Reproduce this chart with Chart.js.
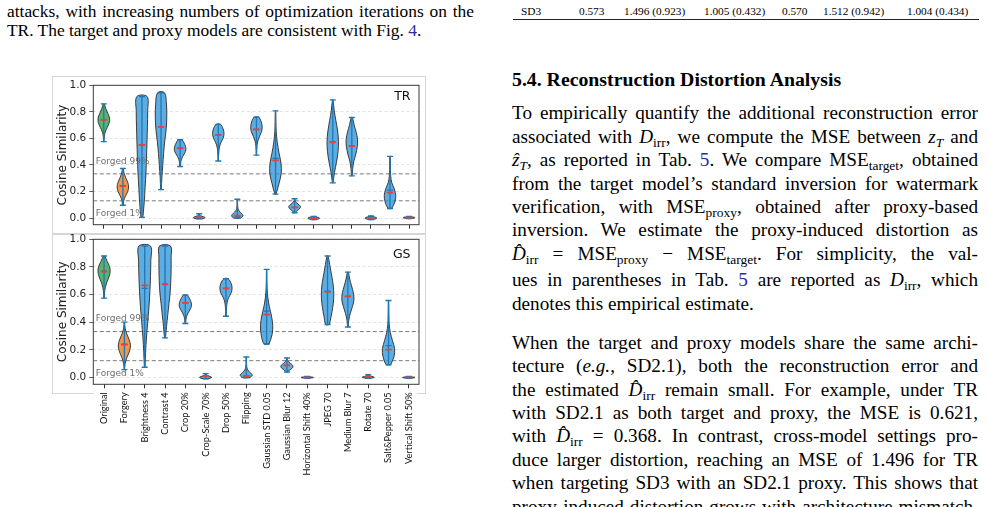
<!DOCTYPE html>
<html>
<head>
<meta charset="utf-8">
<script src="https://cdn.jsdelivr.net/npm/chart.js@4.4.1/dist/chart.umd.min.js"></script>
<style>
html, body { margin: 0; padding: 0; background: #fff; }
body { width: 988px; height: 507px; position: relative; overflow: hidden;
  font-family: "Liberation Serif", "Times New Roman", serif; color: #000; }
.ln { position: absolute; white-space: nowrap; }
.r { left: 512px; width: 466px; font-size: 19.2px; line-height: 23.4px; }
.c { left: 7px; width: 467px; font-size: 17.4px; line-height: 19px; }
.j { text-align: justify; text-align-last: justify; white-space: normal; }
.t { font-size: 11.3px; line-height: 14px; top: 4.1px; }
.ref { color: #2b2ba0; }
sub { font-size: 70%; vertical-align: -0.28em; line-height: 0; font-style: normal; }
i sub { font-style: italic; }
.box { position: absolute; border: 1px solid #d6d6d6; box-sizing: border-box; }
canvas { position: absolute; }
</style>
</head>
<body>

<!-- text around the figure -->
<div class="ln c j" style="top:1.9px">attacks, with increasing numbers of optimization iterations on the</div>
<div class="ln c" style="top:21.3px">TR. The target and proxy models are consistent with Fig. <span class="ref">4</span>.</div>

<div class="ln t" style="left:521px">SD3</div>
<div class="ln t" style="left:579px">0.573</div>
<div class="ln t" style="left:624px">1.496 (0.923)</div>
<div class="ln t" style="left:704px">1.005 (0.432)</div>
<div class="ln t" style="left:782px">0.570</div>
<div class="ln t" style="left:823px">1.512 (0.942)</div>
<div class="ln t" style="left:907px">1.004 (0.434)</div>
<div style="position:absolute;left:513px;top:19px;width:466px;height:1.4px;background:#222"></div>

<div class="ln" style="left:512px;top:68px;font-size:19.8px;line-height:23.4px;font-weight:bold">5.4. Reconstruction Distortion Analysis</div>

<div class="ln r j" style="top:101.3px">To empirically quantify the additional reconstruction error</div>
<div class="ln r j" style="top:124.7px">associated with <i>D</i><sub>irr</sub>, we compute the MSE between <i>z<sub>T</sub></i> and</div>
<div class="ln r j" style="top:148.1px"><i>ẑ<sub>T</sub></i>, as reported in Tab. <span class="ref">5</span>. We compare MSE<sub>target</sub>, obtained</div>
<div class="ln r j" style="top:171.5px">from the target model’s standard inversion for watermark</div>
<div class="ln r j" style="top:194.9px">verification, with MSE<sub>proxy</sub>, obtained after proxy-based</div>
<div class="ln r j" style="top:218.3px">inversion. We estimate the proxy-induced distortion as</div>
<div class="ln r j" style="top:241.7px"><i>D̂</i><sub>irr</sub> = MSE<sub>proxy</sub> − MSE<sub>target</sub>. For simplicity, the val-</div>
<div class="ln r j" style="top:268.3px">ues in parentheses in Tab. <span class="ref">5</span> are reported as <i>D</i><sub>irr</sub>, which</div>
<div class="ln r" style="top:291.7px">denotes this empirical estimate.</div>
<div class="ln r j" style="top:330.8px">When the target and proxy models share the same archi-</div>
<div class="ln r j" style="top:354.2px">tecture (<i>e.g.</i>, SD2.1), both the reconstruction error and</div>
<div class="ln r j" style="top:377.6px">the estimated <i>D̂</i><sub>irr</sub> remain small. For example, under TR</div>
<div class="ln r j" style="top:401px">with SD2.1 as both target and proxy, the MSE is 0.621,</div>
<div class="ln r j" style="top:424.4px">with <i>D̂</i><sub>irr</sub> = 0.368. In contrast, cross-model settings pro-</div>
<div class="ln r j" style="top:447.8px">duce larger distortion, reaching an MSE of 1.496 for TR</div>
<div class="ln r j" style="top:471.2px">when targeting SD3 with an SD2.1 proxy. This shows that</div>
<div class="ln r j" style="top:494.6px">proxy-induced distortion grows with architecture mismatch,</div>

<!-- figure frames -->
<div class="box" style="left:52px;top:76px;width:374px;height:158px"></div>
<div class="box" style="left:52px;top:234px;width:374px;height:160px;border-bottom:none"></div>
<div style="position:absolute;left:52px;top:393px;width:42px;height:1px;background:#d6d6d6"></div>
<div style="position:absolute;left:417px;top:393px;width:9px;height:1px;background:#d6d6d6"></div>

<canvas id="tr" width="373" height="158" style="left:52px;top:76px"></canvas>
<canvas id="gs" width="373" height="251" style="left:52px;top:229px"></canvas>

<script>
// ---- data ----
// TR panel shows 17 violins (one more than the labelled GS axis)
const trNames = ['Original', 'Forgery', 'Brightness 4', 'Contrast 4', 'Crop 20%', 'Crop-Scale 70%',
  'Drop 50%', 'Flipping', '(unlabelled)', 'Gaussian STD 0.05', 'Gaussian Blur 12',
  'Horizontal Shift 40%', 'JPEG 70', 'Medium Blur 7', 'Rotate 70', 'Salt&Pepper 0.05', 'Vertical Shift 50%'];
const trMin    = [0.576, 0.096, 0.005, 0.214, 0.388, -0.005, 0.430, 0.000, 0.474, 0.180, 0.040, -0.012, 0.265, 0.318, -0.012, 0.072, -0.004];
const trMax    = [0.860, 0.373, 0.915, 0.944, 0.590, 0.033, 0.706, 0.142, 0.759, 0.807, 0.145, 0.013, 0.890, 0.757, 0.015, 0.465, 0.012];
const trMean   = [0.740, 0.240, 0.552, 0.687, 0.525, 0.005, 0.624, 0.019, 0.667, 0.434, 0.080, 0.000, 0.571, 0.542, 0.001, 0.192, 0.004];
const trMedian = [0.742, 0.242, 0.552, 0.688, 0.526, 0.005, 0.626, 0.015, 0.668, 0.450, 0.080, 0.000, 0.575, 0.544, 0.001, 0.210, 0.004];
// relative half-width of each violin at 9 even steps from min (first) to max (last)
const trShape = [
  [0.04, 0.08, 0.25, 0.6, 0.95, 1.0, 0.7, 0.35, 0.08],
  [0.05, 0.15, 0.45, 0.85, 1.0, 0.85, 0.5, 0.2, 0.06],
  [0.15, 0.4, 0.55, 0.7, 0.8, 0.88, 0.95, 1.0, 0.9],
  [0.05, 0.15, 0.3, 0.45, 0.65, 0.9, 1.0, 0.95, 0.6],
  [0.05, 0.1, 0.2, 0.45, 0.8, 1.0, 0.95, 0.7, 0.3],
  [0.5, 0.95, 1.0, 0.8, 0.45, 0.2, 0.08, 0.04, 0.02],
  [0.03, 0.05, 0.1, 0.2, 0.45, 0.85, 1.0, 0.85, 0.35],
  [0.6, 1.0, 0.7, 0.3, 0.12, 0.06, 0.04, 0.03, 0.02],
  [0.03, 0.05, 0.1, 0.25, 0.55, 0.9, 1.0, 0.85, 0.4],
  [0.1, 0.6, 1.0, 0.95, 0.6, 0.3, 0.12, 0.06, 0.03],
  [0.1, 0.35, 0.75, 1.0, 0.95, 0.6, 0.25, 0.08, 0.03],
  [0.2, 0.6, 0.9, 1.0, 1.0, 0.9, 0.6, 0.3, 0.1],
  [0.05, 0.3, 0.65, 0.92, 1.0, 0.85, 0.55, 0.25, 0.05],
  [0.05, 0.15, 0.35, 0.7, 0.95, 1.0, 0.75, 0.4, 0.1],
  [0.2, 0.6, 0.9, 1.0, 1.0, 0.9, 0.6, 0.3, 0.1],
  [0.3, 0.85, 1.0, 0.75, 0.3, 0.12, 0.06, 0.04, 0.02],
  [0.2, 0.6, 0.9, 1.0, 1.0, 0.9, 0.6, 0.3, 0.1]
];
const trThresholds = [0.333, 0.130];   // Forged 99%, Forged 1%

const gsNames = ['Original', 'Forgery', 'Brightness 4', 'Contrast 4', 'Crop 20%', 'Crop-Scale 70%',
  'Drop 50%', 'Flipping', 'Gaussian STD 0.05', 'Gaussian Blur 12', 'Horizontal Shift 40%',
  'JPEG 70', 'Medium Blur 7', 'Rotate 70', 'Salt&Pepper 0.05', 'Vertical Shift 50%'];
const gsMin    = [0.574, 0.056, 0.073, 0.286, 0.390, -0.010, 0.443, -0.002, 0.242, 0.039, -0.006, 0.383, 0.365, -0.006, 0.092, -0.006];
const gsMax    = [0.879, 0.400, 0.951, 0.951, 0.595, 0.027, 0.714, 0.148, 0.782, 0.140, 0.006, 0.879, 0.762, 0.020, 0.557, 0.006];
const gsMean   = [0.767, 0.237, 0.666, 0.673, 0.540, 0.007, 0.644, 0.010, 0.455, 0.087, 0.000, 0.620, 0.586, 0.005, 0.201, 0.000];
const gsMedian = [0.770, 0.240, 0.644, 0.675, 0.541, 0.007, 0.645, 0.008, 0.480, 0.087, 0.000, 0.625, 0.586, 0.005, 0.230, 0.000];
const gsShape = [
  [0.03, 0.08, 0.2, 0.45, 0.8, 1.0, 0.9, 0.5, 0.1],
  [0.03, 0.12, 0.4, 0.8, 1.0, 0.8, 0.4, 0.12, 0.03],
  [0.05, 0.15, 0.3, 0.5, 0.7, 0.85, 0.95, 1.0, 0.95],
  [0.08, 0.25, 0.45, 0.65, 0.85, 0.95, 1.0, 1.0, 0.9],
  [0.05, 0.1, 0.2, 0.45, 0.8, 1.0, 0.95, 0.7, 0.3],
  [0.3, 0.8, 1.0, 0.9, 0.6, 0.3, 0.12, 0.05, 0.02],
  [0.03, 0.05, 0.1, 0.2, 0.45, 0.85, 1.0, 0.85, 0.35],
  [0.6, 1.0, 0.6, 0.25, 0.1, 0.05, 0.03, 0.02, 0.02],
  [0.4, 0.9, 1.0, 0.8, 0.45, 0.2, 0.08, 0.04, 0.02],
  [0.1, 0.4, 0.8, 1.0, 0.9, 0.55, 0.25, 0.08, 0.03],
  [0.2, 0.6, 0.9, 1.0, 1.0, 0.9, 0.6, 0.3, 0.1],
  [0.3, 0.6, 0.85, 1.0, 1.0, 0.85, 0.6, 0.35, 0.08],
  [0.05, 0.15, 0.4, 0.75, 1.0, 0.9, 0.6, 0.3, 0.08],
  [0.3, 0.8, 1.0, 0.9, 0.6, 0.35, 0.15, 0.06, 0.02],
  [0.35, 0.9, 1.0, 0.65, 0.3, 0.12, 0.06, 0.04, 0.02],
  [0.2, 0.6, 0.9, 1.0, 1.0, 0.9, 0.6, 0.3, 0.1]
];
const gsThresholds = [0.332, 0.121];

const yTicks = [0, 0.2, 0.4, 0.6, 0.8, 1.0];

// ---- styling ----
Chart.defaults.font.family = '"DejaVu Sans", sans-serif';
const HALF = 0.3;               // max half width of a violin, in category units
const BLUE = 'rgba(52,152,219,0.8)';
const GREEN = 'rgba(46,160,80,0.8)';
const ORANGE = 'rgba(230,126,34,0.8)';
const EDGE = '#2a2a2a';
const LINE = '#1f77b4';
const RED = '#e8403a';

const decor = {
  id: 'decor',
  afterDatasetsDraw(chart, args, o) {
    const {ctx, chartArea: a, scales: {y}} = chart;
    ctx.save();
    ctx.strokeStyle = '#3a3a3a';
    ctx.lineWidth = 1;
    ctx.strokeRect(a.left, a.top, a.right - a.left, a.bottom - a.top);
    ctx.fillStyle = '#6e6e6e';
    ctx.font = '9px "DejaVu Sans"';
    ctx.textBaseline = 'middle';
    ctx.textAlign = 'left';
    ctx.fillText('Forged 99%', a.left + 2.5, y.getPixelForValue(o.thr[0] + 0.09));
    ctx.fillText('Forged 1%', a.left + 2.5, y.getPixelForValue(o.thr[1] - 0.097));
    ctx.fillStyle = '#111';
    ctx.font = '12.5px "DejaVu Sans"';
    ctx.textAlign = 'right';
    ctx.fillText(o.tag, a.right - 8.5, a.top + o.tagDy);
    ctx.restore();
  }
};

function violinChart(id, p) {
  const pts = arr => arr.map((v, i) => ({x: i, y: v}));
  const fills = p.names.map((_, i) => i === 0 ? GREEN : i === 1 ? ORANGE : BLUE);

  const range = [];
  p.min.forEach((lo, i) => range.push({x: i, y: lo}, {x: i, y: p.max[i]}, {x: i, y: null}));

  const bodies = p.min.map((lo, i) => {
    const w = p.shape[i], step = (p.max[i] - lo) / (w.length - 1);
    const right = w.map((v, k) => ({x: i + HALF * v, y: lo + k * step}));
    const left = w.map((v, k) => ({x: i - HALF * v, y: lo + k * step})).reverse();
    return {
      data: right.concat(left, [right[0]]), showLine: true, fill: 'shape',
      backgroundColor: fills[i], borderColor: EDGE, borderWidth: 0.9,
      tension: 0.35, pointRadius: 0, order: 4
    };
  });

  const thr = p.thr.map(t => ({
    data: [{x: p.xMin, y: t}, {x: p.xMax, y: t}], showLine: true,
    borderColor: '#7a7a7a', borderDash: [4, 2.5], borderWidth: 1, pointRadius: 0, order: 5
  }));

  const datasets = [
    {data: pts(p.mean), pointStyle: 'line', pointRadius: 3.2, pointBorderColor: RED, pointBorderWidth: 1.8, order: 0},
    {data: pts(p.median), pointStyle: 'line', pointRadius: 3, pointBorderColor: LINE, pointBorderWidth: 1.3, order: 1},
    {data: pts(p.min).concat(pts(p.max)), pointStyle: 'line', pointRadius: 3, pointBorderColor: LINE, pointBorderWidth: 1.4, order: 1},
    {data: range, showLine: true, spanGaps: false, borderColor: LINE, borderWidth: 1.3, pointRadius: 0, order: 2}
  ].concat(bodies, thr);

  return new Chart(document.getElementById(id), {
    type: 'scatter',
    data: {datasets},
    plugins: [decor],
    options: {
      responsive: false,
      animation: false,
      events: [],
      devicePixelRatio: 1,
      layout: {padding: {left: 0, right: 6, top: p.padTop, bottom: 0}},
      scales: {
        x: {
          type: 'linear', min: p.xMin, max: p.xMax,
          afterBuildTicks: s => { s.ticks = p.names.map((_, i) => ({value: i})); },
          afterFit: s => { s.height = p.xAxisH; },
          ticks: {
            display: p.showLabels, autoSkip: false, minRotation: 90, maxRotation: 90,
            padding: 4, color: '#111', font: {family: 'Lato, "DejaVu Sans", sans-serif', size: 9.2},
            callback: v => p.names[v]
          },
          grid: {drawOnChartArea: false, drawTicks: true, tickLength: 4, tickColor: '#333'},
          border: {display: false}
        },
        y: {
          min: -0.05, max: 1.0,
          afterBuildTicks: s => { s.ticks = yTicks.map(v => ({value: v})); },
          afterFit: s => { s.width = 41.3; },
          ticks: {color: '#222', font: {size: 10.5}, padding: 3, callback: v => v.toFixed(1)},
          grid: {color: 'rgba(0,0,0,0.14)', lineWidth: 0.8, tickColor: '#333', tickLength: 4},
          border: {display: false, dash: [3, 2.5]},
          title: {display: true, text: 'Cosine Similarity', color: '#222', font: {size: 12}, padding: {top: 3.5, bottom: 0}}
        }
      },
      plugins: {
        legend: {display: false},
        tooltip: {enabled: false},
        decor: {thr: p.thr, tag: p.tag, tagDy: p.tagDy}
      }
    }
  });
}

violinChart('tr', {
  names: trNames, min: trMin, max: trMax, mean: trMean, median: trMedian, shape: trShape,
  thr: trThresholds, tag: 'TR', tagDy: 11.2,
  xMin: -0.55, xMax: 16.52, padTop: 9, xAxisH: 3.8, showLabels: false
});

violinChart('gs', {
  names: gsNames, min: gsMin, max: gsMax, mean: gsMean, median: gsMedian, shape: gsShape,
  thr: gsThresholds, tag: 'GS', tagDy: 15.7,
  xMin: -0.53, xMax: 15.5, padTop: 10.3, xAxisH: 95.7, showLabels: true
});
</script>
</body>
</html>
